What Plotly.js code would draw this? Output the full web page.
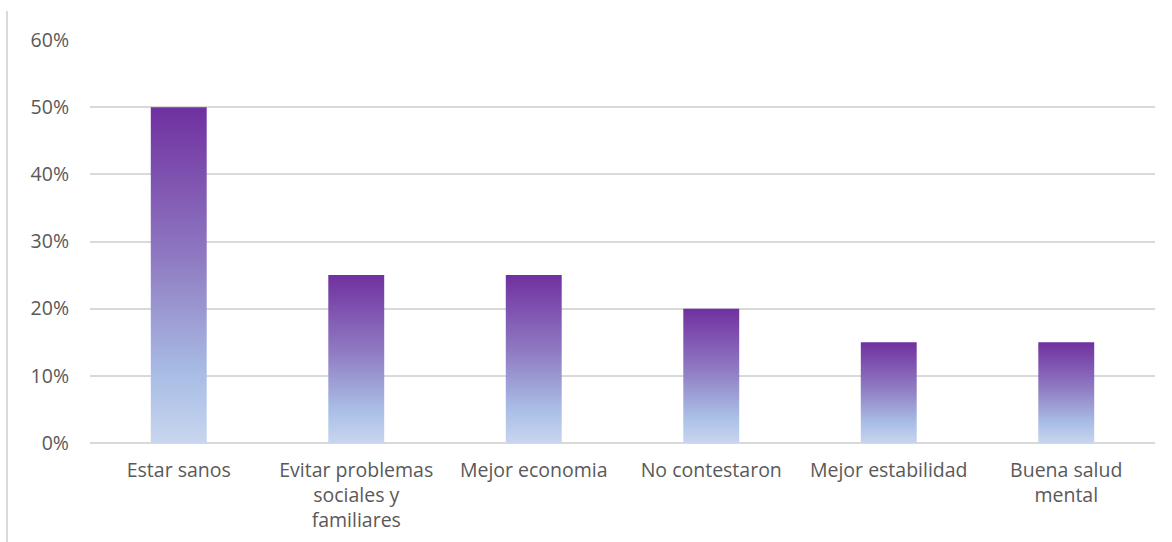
<!DOCTYPE html>
<html>
<head>
<meta charset="utf-8">
<script src="https://cdn.plot.ly/plotly-3.0.1.min.js"></script>
<style>
html,body{margin:0;padding:0;background:#fff;}
#chart{width:1172px;height:542px;}
</style>
</head>
<body>
<div id="chart"></div>
<script>
const categories = ["Estar sanos", "Evitar problemas<br>sociales y<br>familiares", "Mejor economia", "No contestaron", "Mejor estabilidad", "Buena salud<br>mental"];
const values = [0.50, 0.25, 0.25, 0.20, 0.15, 0.15];
const yTickVals = [0, 0.1, 0.2, 0.3, 0.4, 0.5, 0.6];
const yTickText = ["0%", "10%", "20%", "30%", "40%", "50%", "60%"];

const trace = {
  type: "bar",
  x: categories,
  y: values,
  marker: {color: "#8E73BD", line: {width: 0}},
  hoverinfo: "none"
};

const labelFont = {family: "Open Sans, sans-serif", size: 19.5, color: "#595959"};

const layout = {
  width: 1172, height: 542,
  margin: {l: 90, r: 17, t: 40, b: 99},
  paper_bgcolor: "#ffffff", plot_bgcolor: "#ffffff",
  bargap: 0.685,
  showlegend: false,
  font: labelFont,
  xaxis: {
    type: "category",
    showgrid: false, zeroline: false, showline: false, ticks: "",
    tickfont: labelFont,
    ticklabelstandoff: 13,
    fixedrange: true
  },
  yaxis: {
    range: [0, 0.6],
    tickvals: yTickVals, ticktext: yTickText,
    showgrid: true, gridcolor: "#d9d9d9", gridwidth: 2,
    zeroline: true, zerolinecolor: "#d9d9d9", zerolinewidth: 2,
    showline: false, ticks: "",
    tickfont: labelFont,
    ticklabelstandoff: 20,
    fixedrange: true
  },
  shapes: [{
    type: "line", xref: "paper", yref: "paper",
    x0: (7 - 90) / 1065, x1: (7 - 90) / 1065,
    y0: (542 - 99 - 11) / 403, y1: -99 / 403,
    line: {color: "#d9d9d9", width: 2}
  }]
};

Plotly.newPlot("chart", [trace], layout, {displayModeBar: false, staticPlot: true}).then(function(gd){
  const svg = gd.querySelector("svg.main-svg");
  const ns = "http://www.w3.org/2000/svg";
  let defs = svg.querySelector("defs");
  if (!defs) { defs = document.createElementNS(ns, "defs"); svg.insertBefore(defs, svg.firstChild); }
  const grad = document.createElementNS(ns, "linearGradient");
  grad.setAttribute("id", "barGrad");
  grad.setAttribute("x1", "0"); grad.setAttribute("y1", "0");
  grad.setAttribute("x2", "0"); grad.setAttribute("y2", "1");
  const stops = [[0, "#7030A0"], [0.45, "#8F7AC2"], [0.8, "#A9BEE6"], [1, "#C8D5EE"]];
  stops.forEach(function(s){
    const st = document.createElementNS(ns, "stop");
    st.setAttribute("offset", s[0]);
    st.setAttribute("stop-color", s[1]);
    grad.appendChild(st);
  });
  defs.appendChild(grad);
  gd.querySelectorAll(".bars .point path").forEach(function(p){
    p.style.fill = "url(#barGrad)";
  });
});
</script>
</body>
</html>
